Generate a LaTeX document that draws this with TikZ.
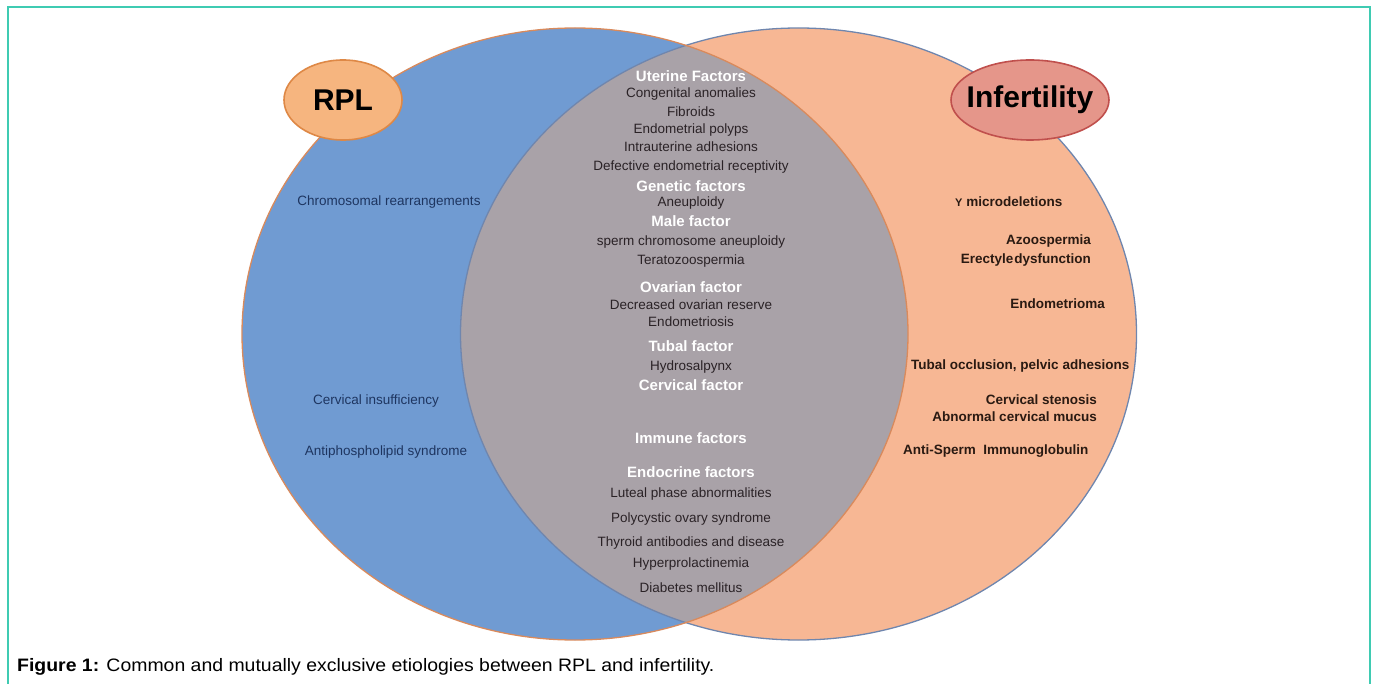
\documentclass[tikz,border=0pt]{standalone}
\usepackage{fontspec}
\setmainfont{Liberation Sans}
\definecolor{frameteal}{HTML}{3FCBB2}
\definecolor{rplblue}{HTML}{709BD2}
\definecolor{infpeach}{HTML}{F7B794}
\definecolor{lensgray}{HTML}{A9A2A8}
\definecolor{leftline}{HTML}{D98A5C}
\definecolor{rightline}{HTML}{6F86AE}
\definecolor{rplfill}{HTML}{F6B57F}
\definecolor{rplline}{HTML}{DE8846}
\definecolor{inffill}{HTML}{E5968A}
\definecolor{infline}{HTML}{C0504D}
\definecolor{navytext}{HTML}{1E3560}
\definecolor{darktext}{HTML}{2A2226}
\definecolor{brtext}{HTML}{2A1A12}
\tikzset{
  item/.style={font=\fontsize{13.5}{15}\selectfont, text=darktext, inner sep=0pt, anchor=center},
  head/.style={font=\fontsize{15}{17}\selectfont\bfseries, text=white, inner sep=0pt, anchor=center},
  leftitem/.style={font=\fontsize{13.5}{15}\selectfont, text=navytext, inner sep=0pt, anchor=center},
  rightitem/.style={font=\fontsize{13.5}{15}\selectfont\bfseries, text=brtext, inner sep=0pt},
  titleell/.style={ellipse, line width=1.6pt, inner sep=0pt},
  titletext/.style={inner sep=0pt, font=\fontsize{30}{33}\selectfont\bfseries, text=black}
}
\usetikzlibrary{shapes.geometric}
\begin{document}
\begin{tikzpicture}[x=1pt,y=-1pt]
\useasboundingbox (0,0) rectangle (1375,684);
% frame
\draw[frameteal, line width=1.6pt] (8,684) -- (8,7) -- (1370,7) -- (1370,684);
% Venn
\fill[rplblue] (575,334) ellipse [x radius=333pt, y radius=306pt];
\fill[infpeach] (798.5,334) ellipse [x radius=338pt, y radius=306pt];
\begin{scope}
  \clip (575,334) ellipse [x radius=333pt, y radius=306pt];
  \fill[lensgray] (798.5,334) ellipse [x radius=338pt, y radius=306pt];
\end{scope}
\draw[rightline, line width=1.3pt] (798.5,334) ellipse [x radius=338pt, y radius=306pt];
\draw[leftline, line width=1.3pt] (575,334) ellipse [x radius=333pt, y radius=306pt];
% title ellipses
\node[titleell, fill=rplfill, draw=rplline, minimum width=118pt, minimum height=80pt] (rpl) at (343,100) {};
\node[titletext] (rpltext) at (rpl.center) {RPL};
\node[titleell, fill=inffill, draw=infline, minimum width=158pt, minimum height=80pt] (inf) at (1030,100) {};
\node[titletext] (inftext) at (inf.center) {Infertility};
% center column
\node[head] (h1) at (691,76) {Uterine Factors};
\node[item] (c1) at (691,94) {Congenital anomalies};
\node[item] (c2) at (691,112) {Fibroids};
\node[item] (c3) at (691,130) {Endometrial polyps};
\node[item] (c4) at (691,147) {Intrauterine adhesions};
\node[item] (c5) at (691,167) {Defective endometrial receptivity};
\node[head] (h2) at (691,186) {Genetic factors};
\node[item] (c6) at (691,203) {Aneuploidy};
\node[head] (h3) at (691,221) {Male factor};
\node[item] (c7) at (691,242) {sperm chromosome aneuploidy};
\node[item] (c8) at (691,261) {Teratozoospermia};
\node[head] (h4) at (691,287) {Ovarian factor};
\node[item] (c9) at (691,305) {Decreased ovarian reserve};
\node[item] (c10) at (691,322) {Endometriosis};
\node[head] (h5) at (691,346) {Tubal factor};
\node[item] (c11) at (691,367) {Hydrosalpynx};
\node[head] (h6) at (691,385) {Cervical factor};
\node[head] (h7) at (691,438) {Immune factors};
\node[head] (h8) at (691,472) {Endocrine factors};
\node[item] (c12) at (691,494) {Luteal phase abnormalities};
\node[item] (c13) at (691,519) {Polycystic ovary syndrome};
\node[item] (c14) at (691,543) {Thyroid antibodies and disease};
\node[item] (c15) at (691,564) {Hyperprolactinemia};
\node[item] (c16) at (691,588) {Diabetes mellitus};
% left column
\node[leftitem] (l1) at (389,202) {Chromosomal rearrangements};
\node[leftitem] (l2) at (376,401) {Cervical insufficiency};
\node[leftitem] (l3) at (386,452) {Antiphospholipid syndrome};
% right column
\node[rightitem, anchor=west] (r1) at (955,202) {{\fontsize{11}{12}\selectfont Y} microdeletions};
\node[rightitem, anchor=east] (r2) at (1091,241) {Azoospermia};
\node[rightitem, anchor=east] (r3) at (1091,260) {Erectyle\kern1pt dysfunction};
\node[rightitem, anchor=east] (r4) at (1105,304) {Endometrioma};
\node[rightitem, anchor=west] (r5) at (911,366) {Tubal occlusion, pelvic adhesions};
\node[rightitem, anchor=east] (r6) at (1097,400) {Cervical stenosis};
\node[rightitem, anchor=east] (r7) at (1097,417) {Abnormal cervical mucus};
\node[rightitem, anchor=west] (r8) at (903,451) {Anti-Sperm\ \ Immunoglobulin};
% caption
\node[anchor=west, inner sep=0pt, text=black] (cap) at (17,667) {\scalebox{1.08}[1]{\fontsize{18}{20}\selectfont\textbf{Figure 1:} Common and mutually exclusive etiologies between RPL and infertility.}};
\end{tikzpicture}
\end{document}
